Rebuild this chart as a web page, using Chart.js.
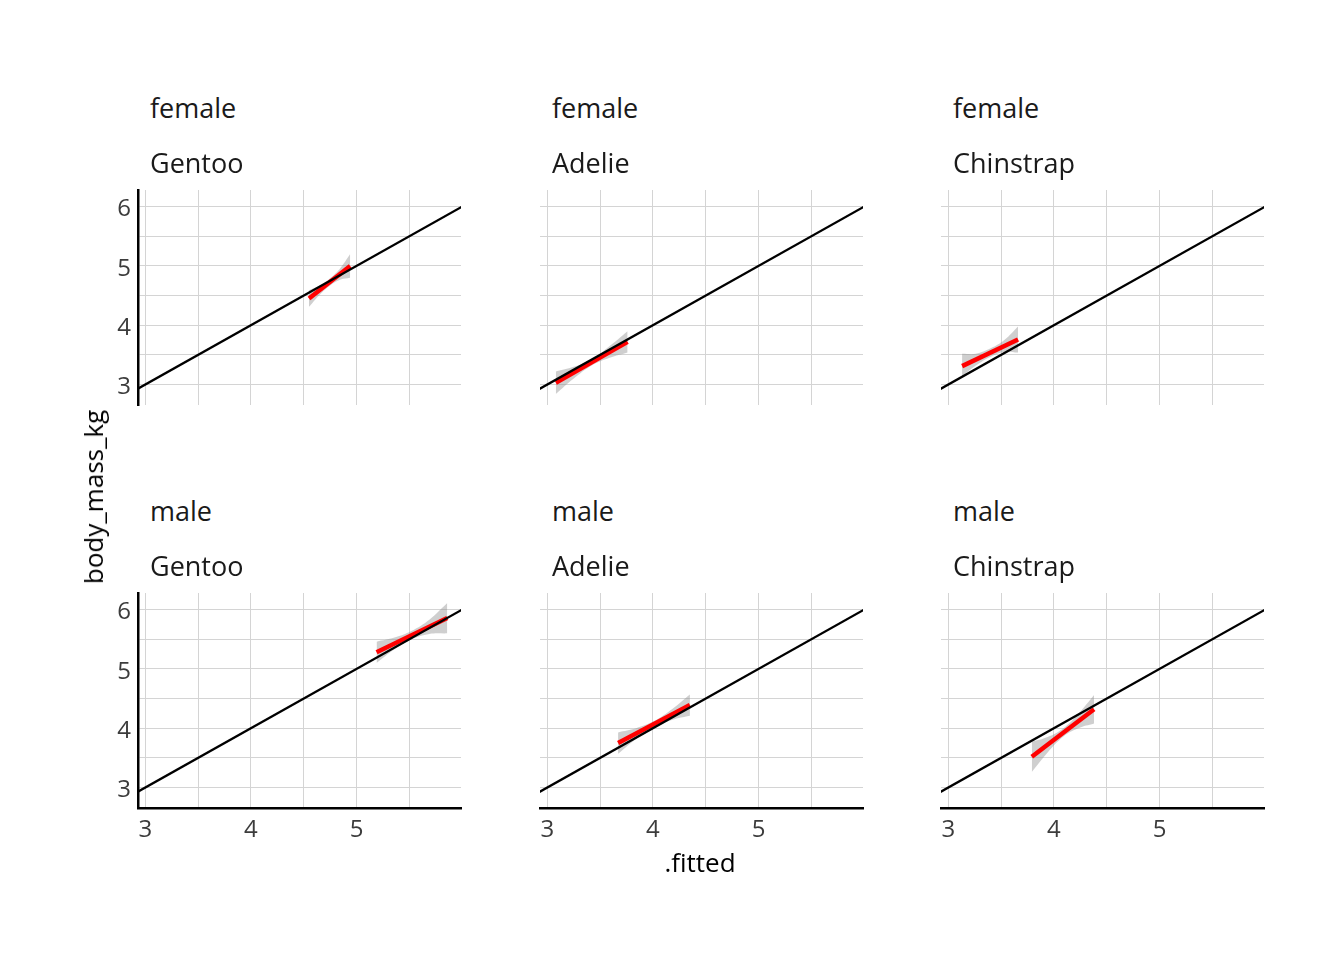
<!DOCTYPE html>
<html>
<head>
<meta charset="utf-8">
<script src="https://cdn.jsdelivr.net/npm/chart.js@4.4.1/dist/chart.umd.min.js"></script>
<style>
  html, body { margin: 0; padding: 0; background: #ffffff; }
  #wrap { position: relative; width: 1344px; height: 960px; overflow: hidden; font-family: "Open Sans", sans-serif; }
  canvas { position: absolute; }
  .strip { position: absolute; font-size: 27px; color: #1a1a1a; line-height: 1; white-space: nowrap; }
  .axtitle { position: absolute; font-size: 26px; color: #000; line-height: 1; white-space: nowrap; }
</style>
</head>
<body>
<div id="wrap"></div>
<script>
// ---- data ----
const facetSex = ['female', 'female', 'female', 'male', 'male', 'male'];
const facetSpecies = ['Gentoo', 'Adelie', 'Chinstrap', 'Gentoo', 'Adelie', 'Chinstrap'];

// fitted (lm) line end points per panel
const fitX = [[4.55, 4.94], [3.08, 3.76], [3.13, 3.66], [5.19, 5.86], [3.67, 4.35], [3.79, 4.38]];
const fitY = [[4.45, 5.00], [3.03, 3.72], [3.31, 3.76], [5.28, 5.86], [3.75, 4.39], [3.52, 4.32]];

// confidence ribbon per panel
const bandX = [
  [4.55, 4.65, 4.75, 4.85, 4.94],
  [3.08, 3.25, 3.42, 3.59, 3.76],
  [3.13, 3.26, 3.40, 3.53, 3.66],
  [5.19, 5.36, 5.52, 5.69, 5.86],
  [3.67, 3.84, 4.01, 4.18, 4.35],
  [3.79, 3.94, 4.09, 4.23, 4.38]
];
const bandLow = [
  [4.31, 4.51, 4.67, 4.77, 4.80],
  [2.84, 3.10, 3.32, 3.45, 3.54],
  [3.14, 3.32, 3.47, 3.55, 3.54],
  [5.10, 5.33, 5.50, 5.59, 5.60],
  [3.57, 3.82, 4.02, 4.14, 4.21],
  [3.26, 3.59, 3.86, 4.00, 4.08]
];
const bandHigh = [
  [4.59, 4.67, 4.79, 4.97, 5.20],
  [3.22, 3.30, 3.42, 3.65, 3.90],
  [3.52, 3.52, 3.61, 3.75, 3.98],
  [5.46, 5.53, 5.64, 5.83, 6.11],
  [3.93, 4.00, 4.12, 4.32, 4.57],
  [3.77, 3.85, 4.00, 4.24, 4.56]
];

// identity reference line y = x
const refX = [2.5, 6.5];
const refY = [2.5, 6.5];

// axis ranges and tick labels
const xRange = [2.93, 5.99];
const yRange = [2.655, 6.28];
const xTickLabels = [3, 4, 5];
const yTickLabels = [3, 4, 5, 6];
const xTitle = '.fitted';
const yTitle = 'body_mass_kg';

// ---- layout ----
const colLeft = [138, 540, 941];
const rowTop = [190, 593];
const plotW = 323, plotH = 215;
const padL = 50, padT = 30, padR = 20, padB = 50;

const wrap = document.getElementById('wrap');
const FONT = '"Open Sans", sans-serif';

function pts(xs, ys) { return xs.map((x, i) => ({ x: x, y: ys[i] })); }

for (let p = 0; p < 6; p++) {
  const c = p % 3, r = Math.floor(p / 3);
  const L = colLeft[c], T = rowTop[r];
  const showY = c === 0, showX = r === 1;

  const cv = document.createElement('canvas');
  const W = plotW + padL + padR, H = plotH + padT + padB;
  cv.width = W; cv.height = H;
  cv.style.left = (L - padL) + 'px';
  cv.style.top = (T - padT) + 'px';
  cv.style.width = W + 'px'; cv.style.height = H + 'px';
  wrap.appendChild(cv);

  // strip labels
  const s1 = document.createElement('div');
  s1.className = 'strip'; s1.textContent = facetSex[p];
  s1.style.left = (L + 12) + 'px'; s1.style.top = (T - 96) + 'px';
  wrap.appendChild(s1);
  const s2 = document.createElement('div');
  s2.className = 'strip'; s2.textContent = facetSpecies[p];
  s2.style.left = (L + 12) + 'px'; s2.style.top = (T - 41) + 'px';
  wrap.appendChild(s2);

  new Chart(cv, {
    type: 'scatter',
    data: {
      datasets: [
        {
          type: 'line', data: pts(refX, refY), borderColor: '#000000', borderWidth: 2.3,
          pointRadius: 0, fill: false, order: 0, tension: 0
        },
        {
          type: 'line', data: pts(fitX[p], fitY[p]), borderColor: '#ff0000', borderWidth: 4.5,
          pointRadius: 0, fill: false, order: 1, tension: 0, borderCapStyle: 'butt'
        },
        {
          type: 'line', data: pts(bandX[p], bandLow[p]), borderWidth: 0, borderColor: 'rgba(0,0,0,0)',
          pointRadius: 0, fill: false, order: 3, tension: 0.4
        },
        {
          type: 'line', data: pts(bandX[p], bandHigh[p]), borderWidth: 0, borderColor: 'rgba(0,0,0,0)',
          backgroundColor: 'rgba(140,140,140,0.42)', pointRadius: 0, fill: '-1', order: 2, tension: 0.4
        }
      ]
    },
    options: {
      responsive: false,
      animation: false,
      devicePixelRatio: 1,
      layout: { padding: { left: 0, top: padT, right: padR, bottom: 0 } },
      plugins: { legend: { display: false }, tooltip: { enabled: false }, title: { display: false } },
      scales: {
        x: {
          type: 'linear', min: xRange[0], max: xRange[1],
          afterFit: (a) => { a.height = padB; },
          grid: { color: '#d4d4d4', lineWidth: 1, drawTicks: false },
          border: { display: showX, color: '#000000', width: 2.5 },
          ticks: {
            display: showX, stepSize: 0.5, includeBounds: false, autoSkip: false, maxRotation: 0,
            padding: 8, color: '#3c3c3c', font: { family: FONT, size: 24 },
            callback: (v) => xTickLabels.includes(v) ? String(v) : ''
          }
        },
        y: {
          type: 'linear', min: yRange[0], max: yRange[1],
          afterFit: (a) => { a.width = padL; },
          grid: { color: '#d4d4d4', lineWidth: 1, drawTicks: false },
          border: { display: showY, color: '#000000', width: 2.5 },
          ticks: {
            display: showY, stepSize: 0.5, includeBounds: false, autoSkip: false,
            padding: 7, labelOffset: 3, color: '#3c3c3c', font: { family: FONT, size: 24 },
            callback: (v) => yTickLabels.includes(v) ? String(v) : ''
          }
        }
      }
    }
  });
}

// axis titles
const xt = document.createElement('div');
xt.className = 'axtitle'; xt.textContent = xTitle;
xt.style.left = '700px'; xt.style.top = '849px'; xt.style.transform = 'translateX(-50%)';
wrap.appendChild(xt);
const yt = document.createElement('div');
yt.className = 'axtitle'; yt.textContent = yTitle;
yt.style.left = '93px'; yt.style.top = '497px';
yt.style.transform = 'translate(-50%, -50%) rotate(-90deg)';
wrap.appendChild(yt);
</script>
</body>
</html>
